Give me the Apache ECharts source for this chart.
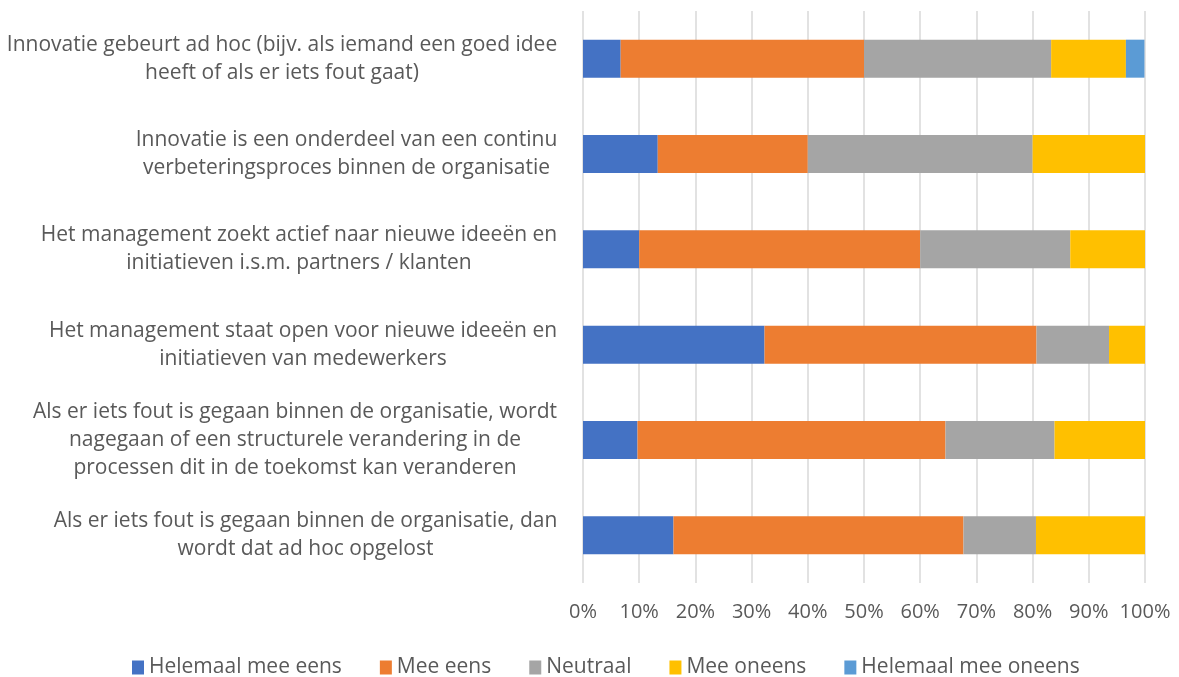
<!DOCTYPE html>
<html>
<head>
<meta charset="utf-8">
<script src="https://cdn.jsdelivr.net/npm/echarts@6/dist/echarts.min.js"></script>
<style>
  html, body { margin: 0; padding: 0; background: #fff; }
  #chart { width: 1179px; height: 677px; }
</style>
</head>
<body>
<div id="chart"></div>
<script>
// categorieën, van boven naar beneden
var categories = [
  'Innovatie gebeurt ad hoc (bijv. als iemand een goed idee\nheeft of als er iets fout gaat)',
  'Innovatie is een onderdeel van een continu\nverbeteringsproces binnen de organisatie',
  'Het management zoekt actief naar nieuwe ideeën en\ninitiatieven i.s.m. partners / klanten',
  'Het management staat open voor nieuwe ideeën en\ninitiatieven van medewerkers',
  'Als er iets fout is gegaan binnen de organisatie, wordt\nnagegaan of een structurele verandering in de\nprocessen dit in de toekomst kan veranderen',
  'Als er iets fout is gegaan binnen de organisatie, dan\nwordt dat ad hoc opgelost'
];
var seriesNames = ['Helemaal mee eens', 'Mee eens', 'Neutraal', 'Mee oneens', 'Helemaal mee oneens'];
var heleEens   = [6.7, 13.3, 10, 32.3, 9.7, 16.1];
var eens       = [43.3, 26.7, 50, 48.4, 54.8, 51.6];
var neutraal   = [33.3, 40, 26.7, 12.9, 19.4, 12.9];
var oneens     = [13.3, 20, 13.3, 6.5, 16.1, 19.4];
var heleOneens = [3.3, 0, 0, 0, 0, 0];
var xTicks = [0, 10, 20, 30, 40, 50, 60, 70, 80, 90, 100];

var colors = ['#4472C4', '#ED7D31', '#A5A5A5', '#FFC000', '#5B9BD5'];
var fontFamily = '"Open Sans"';
var fontSize = 21;

// breedte van de langste regel per label, zodat de regels gecentreerd staan
var ctx = document.createElement('canvas').getContext('2d');
ctx.font = fontSize + 'px ' + fontFamily;
var rich = {};
categories.forEach(function (c, i) {
  var w = 0;
  c.split('\n').forEach(function (l) {
    w = Math.max(w, ctx.measureText(l).width);
  });
  rich['r' + i] = {
    width: Math.ceil(w) + 1,
    align: 'center',
    fontSize: fontSize,
    fontFamily: fontFamily,
    color: '#595959',
    lineHeight: 28
  };
});

var myChart = echarts.init(document.getElementById('chart'));
var data = [heleEens, eens, neutraal, oneens, heleOneens];

myChart.setOption({
  animation: false,
  color: colors,
  grid: {
    left: 583,
    right: 34,
    top: 11,
    height: 572
  },
  legend: {
    top: 652,
    left: 127,
    itemWidth: 12,
    itemHeight: 14,
    itemGap: 38,
    icon: 'rect',
    textStyle: { fontSize: fontSize, fontFamily: fontFamily, color: '#595959' },
    data: seriesNames
  },
  xAxis: {
    type: 'value',
    min: 0,
    max: 100,
    interval: 10,
    axisLine: { show: false },
    axisTick: { show: false },
    splitLine: { lineStyle: { color: '#D9D9D9', width: 1.5 } },
    axisLabel: {
      margin: 19,
      fontSize: 20,
      fontFamily: fontFamily,
      color: '#595959',
      formatter: function (v) {
        return xTicks.indexOf(v) >= 0 ? v + '%' : '';
      }
    }
  },
  yAxis: {
    type: 'category',
    inverse: true,
    data: categories,
    axisLine: { show: false },
    axisTick: { show: false },
    axisLabel: {
      margin: 25,
      align: 'right',
      rich: rich,
      formatter: function (v, i) {
        return v.split('\n').map(function (l) {
          return '{r' + i + '|' + l + '}';
        }).join('\n');
      }
    }
  },
  series: seriesNames.map(function (n, k) {
    return {
      name: n,
      type: 'bar',
      stack: 'totaal',
      barWidth: 38,
      data: data[k]
    };
  })
});
</script>
</body>
</html>
